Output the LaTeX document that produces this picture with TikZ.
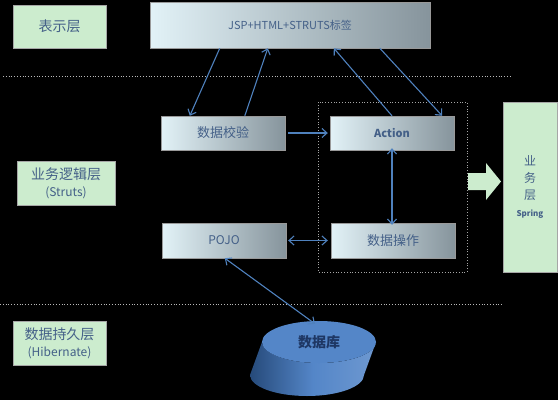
\documentclass[tikz,border=0pt]{standalone}
\usepackage{fontspec}
\setmainfont{Noto Sans CJK SC}
\usetikzlibrary{arrows.meta,calc,shapes.geometric}
\definecolor{layergreen}{RGB}{204,236,206}
\definecolor{boxlight}{RGB}{226,242,247}
\definecolor{boxdark}{RGB}{134,148,156}
\definecolor{linkblue}{RGB}{79,129,189}
\definecolor{textblue}{RGB}{68,96,136}
\definecolor{dbtop}{RGB}{84,134,200}
\definecolor{dbdark}{RGB}{38,74,122}
\definecolor{dbtext}{RGB}{30,55,100}
\tikzset{
  layerbox/.style={draw=gray!70, fill=layergreen, text=textblue, align=center,
    inner sep=0pt, font=\fontsize{14}{17}\selectfont},
  partbox/.style={draw=gray!80, left color=boxlight, right color=boxdark, text=textblue,
    inner sep=0pt, minimum width=124pt, minimum height=34pt, font=\fontsize{13}{16}\selectfont},
  link/.style={draw=linkblue, line width=1.1pt},
  sepline/.style={draw=gray!55, dotted, line width=0.8pt},
}
\begin{document}
\begin{tikzpicture}[x=1pt, y=-1pt, >={Straight Barb[length=5pt,width=9pt]}]
    \fill[black] (0,0) rectangle (558,400);
    \useasboundingbox (0,0) rectangle (558,400);

    % 分层虚线
    \draw[sepline] (3,76) -- (512,76);
    \draw[sepline] (0,304) -- (502,304);

    % 左侧各层
    \node[layerbox, minimum width=93pt, minimum height=43pt] (biaoshi) at (59.5,26.5) {表示层};
    \node[layerbox, minimum width=98pt, minimum height=44pt] (luoji) at (66,183)
        {业务逻辑层\\{\fontsize{12}{14}\selectfont (Struts)}};
    \node[layerbox, minimum width=93pt, minimum height=44pt] (chijiu) at (59.5,343)
        {数据持久层\\{\fontsize{12}{14}\selectfont (Hibernate)}};

    % 表示层
    \node[partbox, minimum width=280pt, minimum height=46pt, font=\fontsize{11}{14}\selectfont]
        (jsp) at (290,25) {JSP+HTML+STRUTS标签};

    % Struts
    \node[partbox] (jiaoyan) at (223,133) {数据校验};
    \node[partbox, font=\fontsize{11}{13}\selectfont\bfseries] (action) at (392,133) {Action};
    \node[partbox, minimum height=35pt, font=\fontsize{12}{14}\selectfont] (pojo) at (224,240.5) {POJO};
    \node[partbox, minimum height=35pt] (caozuo) at (393,240.5) {数据操作};
    \draw[gray!70, dotted, line width=0.8pt] (318,102) rectangle (467,272);

    % 业务层
    \node[layerbox, minimum width=54pt, minimum height=170pt, font=\fontsize{12}{17}\selectfont]
        (spring) at (530,187) {业\\务\\层\\{\fontsize{8}{11}\selectfont\bfseries Spring}};
    \fill[layergreen] (468,173) -- (486,173) -- (486,163) -- (501,181.5)
        -- (486,200) -- (486,190) -- (468,190) -- cycle;

    % 数据库
    \fill[left color=dbdark, right color=dbtop!85!white, middle color=dbtop]
        (262,342) -- (250,375) arc (180:0:57 and 21) -- (376,342) arc (0:180:57 and 21) -- cycle;
    \node[ellipse, fill=dbtop, minimum width=114pt, minimum height=42pt, inner sep=0pt,
        text=dbtext, font=\fontsize{14}{16}\selectfont\bfseries] (db) at (319,342) {数据库};

    % 连线
    \draw[link, ->] ([xshift=70pt]jsp.south west) -- ([xshift=29pt]jiaoyan.north west);
    \draw[link, ->] ([xshift=84pt]jiaoyan.north west) -- ([xshift=118pt]jsp.south west);
    \draw[link, ->] (action.north) -- ([xshift=184pt]jsp.south west);
    \draw[link, ->] ([xshift=230pt]jsp.south west) -- ([xshift=-12pt]action.north east);
    \draw[link, ->] ([xshift=3pt]jiaoyan.east) -- ([xshift=-2pt]action.west);
    \draw[link, <->] ([yshift=2pt]action.south) -- ([yshift=-2pt]action.south |- caozuo.north);
    \draw[link, <->] ([xshift=2pt]pojo.east) -- ([xshift=-3pt]caozuo.west);
    \draw[link, <->] ([xshift=63pt]pojo.south west) -- ([xshift=-4pt,yshift=-3pt]db.north);
\end{tikzpicture}
\end{document}
